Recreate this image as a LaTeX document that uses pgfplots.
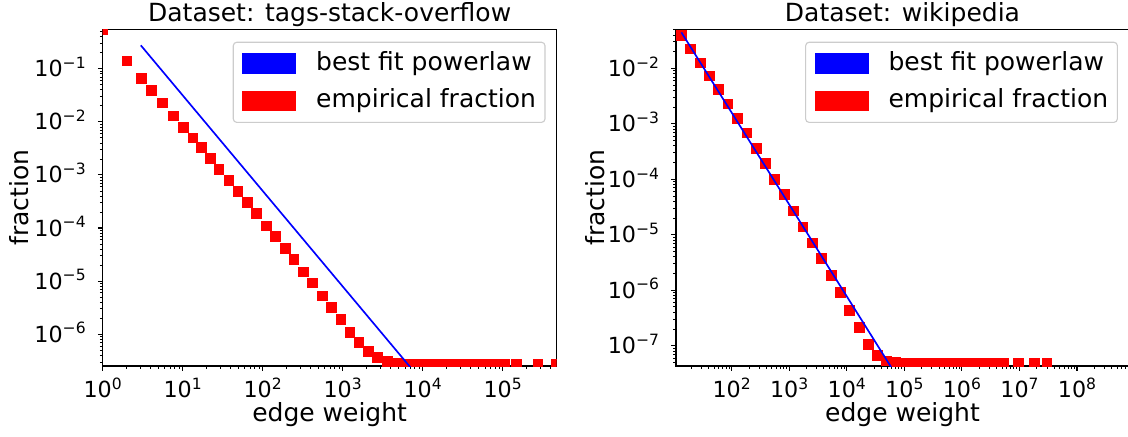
\documentclass[border=0pt]{standalone}
\usepackage{fontspec}
\setmainfont{DejaVu Sans}
\usepackage{pgfplots}
\pgfplotsset{compat=1.18}

\newcommand{\logtick}[1]{%
  \pgfmathtruncatemacro{\myexp}{round(#1/2.302585093)}%
  10\raisebox{6pt}{\fontsize{11.2}{11.2}\selectfont\ifnum\myexp<0 −\number-\myexp\else\myexp\fi}}

\pgfplotsset{
  every axis/.append style={
    scale only axis,
    axis line style={black, line width=0.8pt},
    tick align=outside, tick pos=left,
    major tick length=3.5pt, minor tick length=2pt,
    every major tick/.style={black, line width=0.8pt},
    every minor tick/.style={black, line width=0.6pt},
    xticklabel={\logtick{\tick}}, yticklabel={\logtick{\tick}},
    tick label style={font=\fontsize{16}{19}\selectfont},
    xticklabel style={anchor=base, yshift=-19.2pt},
    yticklabel style={anchor=base east, xshift=-5.2pt, yshift=-5.8pt},
    every axis title shift=0pt,
    title style={font=\fontsize{18}{21}\selectfont, at={(axis description cs:0.5,1)}, anchor=base, yshift=5.5pt},
    legend style={at={(axis description cs:1,1)}, anchor=north east, xshift=-8pt, yshift=-9.1pt,
      draw=black!20, line width=0.8pt, rounded corners=2.5pt, fill=white,
      font=\fontsize{18}{21}\selectfont, inner xsep=6.5pt, inner ysep=6.5pt, row sep=9.1pt,
      nodes={inner sep=0pt, text height=13.5pt, text depth=4.3pt, anchor=west},
      /tikz/every odd column/.append style={column sep=14.4pt}},
    legend cell align=left,
    clip marker paths=true,
  },
}

\begin{document}
\begin{tikzpicture}
\useasboundingbox (0,0) rectangle (812.16pt,313.92pt);

% ---------------- left panel ----------------
\begin{axis}[xmode=log, ymode=log,
  at={(73.9pt,50.4pt)}, anchor=south west, width=326.9pt, height=242.6pt,
  xmin=1, xmax=4.73e5, ymin=2.52e-7, ymax=0.559,
  title={Dataset: tags-stack-overflow},
  xlabel={edge weight}, ylabel={fraction},
  xlabel style={font=\fontsize{18}{21}\selectfont, at={(axis description cs:0.5,0)}, anchor=base, yshift=-40.1pt},
  ylabel style={font=\fontsize{18}{21}\selectfont, at={([xshift=-53.3pt]axis description cs:0,0.5)}, anchor=base},
  xtick={1,10,100,1000,10000,100000},
  minor xtick={2,3,4,5,6,7,8,9,20,30,40,50,60,70,80,90,200,300,400,500,600,700,800,900,2000,3000,4000,5000,6000,7000,8000,9000,20000,30000,40000,50000,60000,70000,80000,90000,200000,300000,400000},
  ytick={1e-6,1e-5,1e-4,1e-3,1e-2,1e-1},
  minor ytick={3e-7,4e-7,5e-7,6e-7,7e-7,8e-7,9e-7,2e-6,3e-6,4e-6,5e-6,6e-6,7e-6,8e-6,9e-6,2e-5,3e-5,4e-5,5e-5,6e-5,7e-5,8e-5,9e-5,2e-4,3e-4,4e-4,5e-4,6e-4,7e-4,8e-4,9e-4,2e-3,3e-3,4e-3,5e-3,6e-3,7e-3,8e-3,9e-3,2e-2,3e-2,4e-2,5e-2,6e-2,7e-2,8e-2,9e-2,2e-1,3e-1,4e-1,5e-1},
]
\addlegendimage{legend image code/.code={\fill[blue, sharp corners] (0pt,-7.1pt) rectangle (38pt,7.1pt);}}
\addlegendentry{best fit powerlaw}
\addlegendimage{legend image code/.code={\fill[red, sharp corners] (0pt,-7.1pt) rectangle (38pt,7.1pt);}}
\addlegendentry{empirical fraction}
\addplot[only marks, mark=square*, mark size=3.5pt, color=red, mark options={draw=none, fill=red}, forget plot] table {
x y
1 0.555
2 0.141
3.06 0.0668
4.08 0.0397
5.6 0.0229
7.67 0.013
10.1 0.008
13.4 0.005
17 0.0033
22.2 0.00206
28.4 0.00129
37.6 0.0008
49 0.000498
64.6 0.000305
84 0.000189
110 0.00011
144 6.9e-5
190 4.2e-5
245 2.6e-5
321 1.5e-5
420 9.3e-6
555 5.3e-6
725 3.2e-6
950 1.93e-6
1228 1.1e-6
1590 7.0e-7
2080 4.7e-7
2717 3.7e-7
3590 3.1e-7
4640 2.85e-7
6004 2.75e-7
7780 2.75e-7
10080 2.75e-7
13060 2.75e-7
16920 2.75e-7
21930 2.75e-7
28410 2.75e-7
36810 2.75e-7
47700 2.75e-7
61800 2.75e-7
80090 2.75e-7
103800 2.75e-7
146600 2.75e-7
275400 2.75e-7
463400 2.75e-7
};
\addplot[blue, line width=1.2pt, forget plot] coordinates {(3,0.276) (100000,2.0e-9)};
\end{axis}

% ---------------- right panel ----------------
\begin{axis}[xmode=log, ymode=log,
  at={(486.7pt,50.4pt)}, anchor=south west, width=326.2pt, height=242.6pt,
  xmin=10.8, xmax=8.0e8, ymin=4.3e-8, ymax=0.0511,
  title={Dataset: wikipedia},
  xlabel={edge weight}, ylabel={fraction},
  xlabel style={font=\fontsize{18}{21}\selectfont, at={(axis description cs:0.5,0)}, anchor=base, yshift=-40.1pt},
  ylabel style={font=\fontsize{18}{21}\selectfont, at={([xshift=-51.8pt]axis description cs:0,0.5)}, anchor=base},
  xtick={1e2,1e3,1e4,1e5,1e6,1e7,1e8},
  minor xtick={20,30,40,50,60,70,80,90,200,300,400,500,600,700,800,900,2000,3000,4000,5000,6000,7000,8000,9000,2e4,3e4,4e4,5e4,6e4,7e4,8e4,9e4,2e5,3e5,4e5,5e5,6e5,7e5,8e5,9e5,2e6,3e6,4e6,5e6,6e6,7e6,8e6,9e6,2e7,3e7,4e7,5e7,6e7,7e7,8e7,9e7,2e8,3e8,4e8,5e8,6e8,7e8},
  ytick={1e-7,1e-6,1e-5,1e-4,1e-3,1e-2},
  minor ytick={5e-8,6e-8,7e-8,8e-8,9e-8,2e-7,3e-7,4e-7,5e-7,6e-7,7e-7,8e-7,9e-7,2e-6,3e-6,4e-6,5e-6,6e-6,7e-6,8e-6,9e-6,2e-5,3e-5,4e-5,5e-5,6e-5,7e-5,8e-5,9e-5,2e-4,3e-4,4e-4,5e-4,6e-4,7e-4,8e-4,9e-4,2e-3,3e-3,4e-3,5e-3,6e-3,7e-3,8e-3,9e-3,2e-2,3e-2,4e-2,5e-2},
]
\addlegendimage{legend image code/.code={\fill[blue, sharp corners] (0pt,-7.1pt) rectangle (38pt,7.1pt);}}
\addlegendentry{best fit powerlaw}
\addlegendimage{legend image code/.code={\fill[red, sharp corners] (0pt,-7.1pt) rectangle (38pt,7.1pt);}}
\addlegendentry{empirical fraction}
\addplot[only marks, mark=square*, mark size=3.5pt, color=red, mark options={draw=none, fill=red}, forget plot] table {
x y
13.4 0.0398
19.4 0.0225
28.6 0.0126
40.8 0.00736
59.2 0.0042
85.9 0.0023
126 0.00127
183 6.9e-4
266 3.66e-4
385 1.94e-4
550 1.01e-4
811 5.4e-5
1176 2.7e-5
1713 1.4e-5
2483 7.2e-6
3605 3.76e-6
5310 1.86e-6
7710 9.2e-7
11200 4.4e-7
16300 2.15e-7
23600 1.07e-7
34300 6.8e-8
49200 5.37e-8
70470 5.0e-8
100900 4.9e-8
144900 4.8e-8
207500 4.8e-8
297200 4.8e-8
425600 4.8e-8
610900 4.8e-8
874980 4.8e-8
1253000 4.8e-8
1795000 4.8e-8
2576000 4.8e-8
3690000 4.8e-8
5284000 4.8e-8
9550000 4.8e-8
17950000 4.8e-8
29790000 4.8e-8
};
\addplot[blue, line width=1.2pt, forget plot] coordinates {(13.4,0.0446) (100000,1.71e-8)};
\end{axis}
\end{tikzpicture}
\end{document}
